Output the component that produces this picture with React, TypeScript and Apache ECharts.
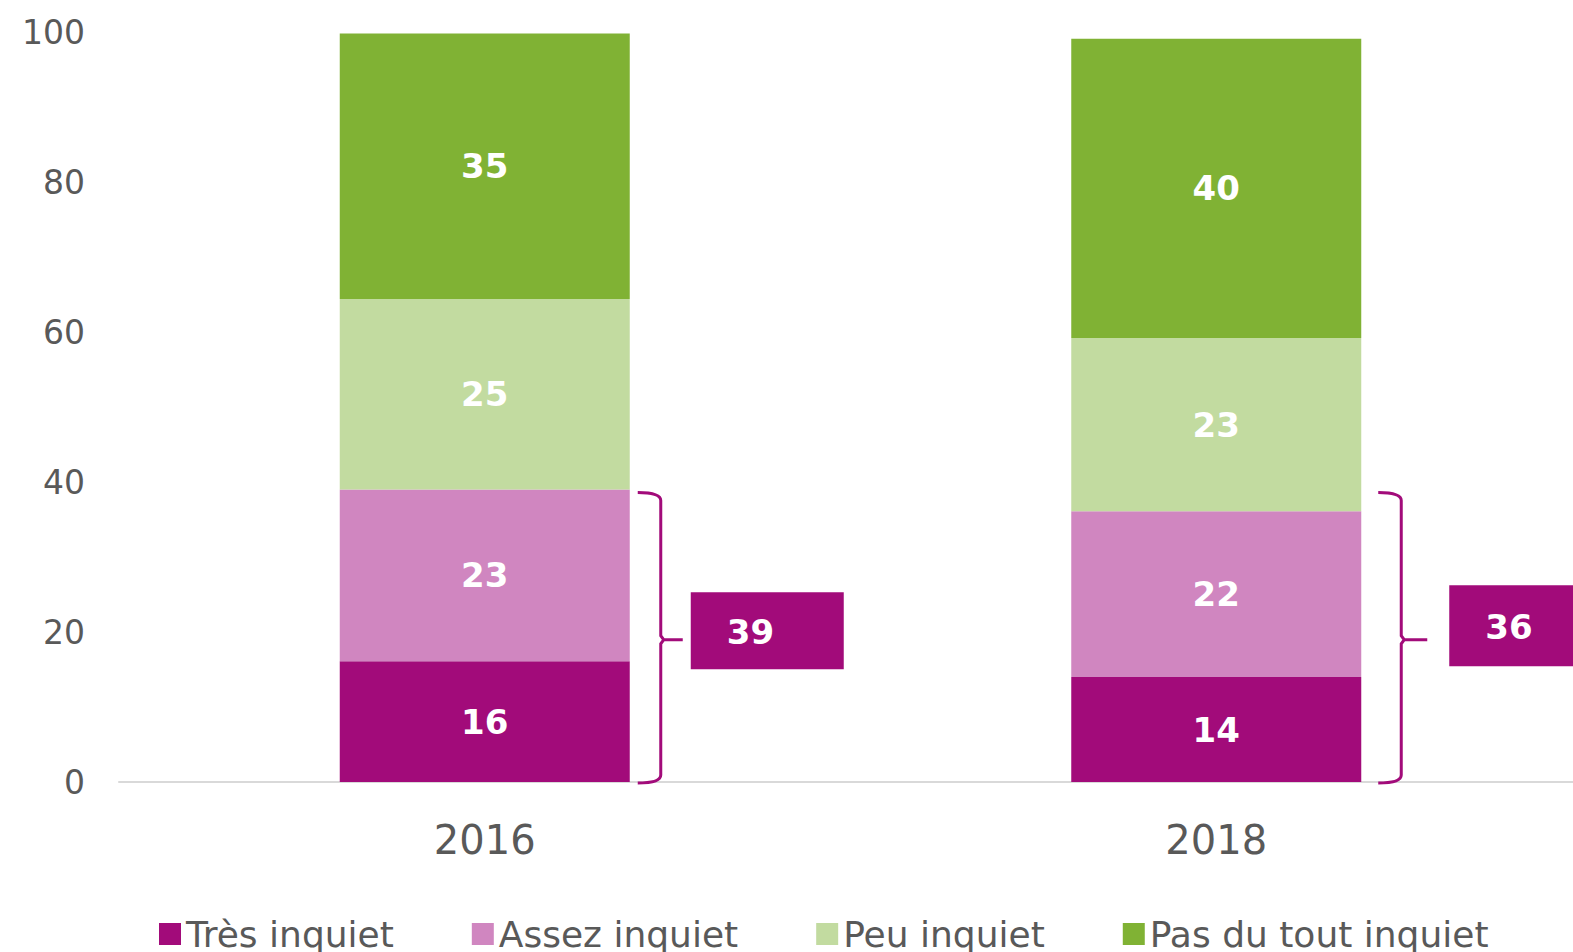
import React, { useEffect, useRef } from "react";
import * as echarts from "echarts";

const categories = ["2016", "2018"];
const seriesNames = ["Très inquiet", "Assez inquiet", "Peu inquiet", "Pas du tout inquiet"];
const tresInquiet = [16.1, 14.0];
const assezInquiet = [22.9, 22.1];
const peuInquiet = [25.4, 23.1];
const pasDuToutInquiet = [35.4, 39.9];
// bracket top value and total shown in the box, per category
const bracketTop = [38.6, 38.6];
const bracketTotals = [39, 36];

const colors = ["#a20b7a", "#d086c0", "#c2dba0", "#80b234"];
const FONT = "DejaVu Sans";
const BAR_W = 290;
const LAYOUT = [
  { x0: 153, x1: 176, xt: 198, boxL: 206, boxW: 153, boxH: 77, dy: -7 },
  { x0: 162, x1: 185, xt: 211, boxL: 233, boxW: 160, boxH: 81, dy: -12 },
];

export default function App() {
  const ref = useRef<HTMLDivElement>(null);
  useEffect(() => {
    const chart = echarts.init(ref.current!, null, { renderer: "svg" });
    const valueLists = [tresInquiet, assezInquiet, peuInquiet, pasDuToutInquiet];
    const barSeries = seriesNames.map((name, i) => ({
      name,
      type: "bar",
      stack: "total",
      barWidth: BAR_W,
      data: valueLists[i],
      itemStyle: { color: colors[i] },
      label: {
        show: true,
        position: "inside",
        color: "#ffffff",
        fontWeight: "bold",
        fontSize: 34,
        fontFamily: FONT,
        formatter: (p: any) => String(Math.round(p.value)),
      },
    }));
    const bracketData = categories.map((_, i) => [i, bracketTop[i], bracketTotals[i]]);
    const customSeries = {
      type: "custom",
      name: "bracket",
      clip: false,
      silent: true,
      data: bracketData,
      renderItem: (params: any, api: any) => {
        const idx = params.dataIndex;
        const L = LAYOUT[idx];
        const cat = api.value(0);
        const top = api.value(1);
        const total = api.value(2);
        const p0 = api.coord([cat, 0]);
        const pt = api.coord([cat, top]);
        const cx = p0[0];
        const yBot = p0[1] + 1;
        const yTop = pt[1];
        const yMid = (yBot + yTop) / 2 + 2;
        const x0 = cx + L.x0;
        const x1 = cx + L.x1;
        const xt = cx + L.xt;
        const r = 8;
        const d =
          `M ${x0} ${yTop} Q ${x1} ${yTop} ${x1} ${yTop + r} L ${x1} ${yMid - 4} L ${x1 + 3} ${yMid} L ${x1} ${yMid + 4} L ${x1} ${yBot - r} Q ${x1} ${yBot} ${x0} ${yBot}` +
          ` M ${x1 + 2} ${yMid} L ${xt} ${yMid}`;
        const boxY = yMid + L.dy - 2 - L.boxH / 2;
        return {
          type: "group",
          children: [
            {
              type: "path",
              shape: { pathData: d },
              style: { stroke: colors[0], fill: "none", lineWidth: 3 },
            },
            {
              type: "rect",
              shape: { x: cx + L.boxL, y: boxY, width: L.boxW, height: L.boxH },
              style: { fill: colors[0] },
            },
            {
              type: "text",
              x: cx + L.boxL + 36,
              y: boxY + L.boxH / 2 + 1,
              style: {
                text: String(total),
                fill: "#ffffff",
                fontSize: 34,
                fontWeight: "bold",
                fontFamily: FONT,
                align: "left",
                verticalAlign: "middle",
              },
            },
          ],
        };
      },
    };
    chart.setOption({
      animation: false,
      backgroundColor: "#ffffff",
      grid: { left: 119, width: 1463, top: 32, height: 750, outerBoundsMode: "none", containLabel: false },
      legend: {
        data: seriesNames,
        left: 154,
        top: 911,
        icon: "rect",
        itemWidth: 22,
        itemHeight: 22,
        itemGap: 78,
        textStyle: { fontSize: 36, color: "#595959", fontFamily: FONT },
      },
      xAxis: {
        type: "category",
        data: categories,
        axisLine: { show: true, lineStyle: { color: "#d9d9d9", width: 2 } },
        axisTick: { show: false },
        axisLabel: { fontSize: 40, color: "#595959", fontFamily: FONT, margin: 38 },
      },
      yAxis: {
        type: "value",
        min: 0,
        max: 100,
        interval: 20,
        splitLine: { show: false },
        axisLine: { show: false },
        axisTick: { show: false },
        axisLabel: { fontSize: 33, color: "#595959", fontFamily: FONT, margin: 34 },
      },
      series: [...barSeries, customSeries],
    });
    return () => chart.dispose();
  }, []);
  return <div ref={ref} style={{ width: 1573, height: 952, position: "absolute", left: 0, top: 0 }} />;
}
